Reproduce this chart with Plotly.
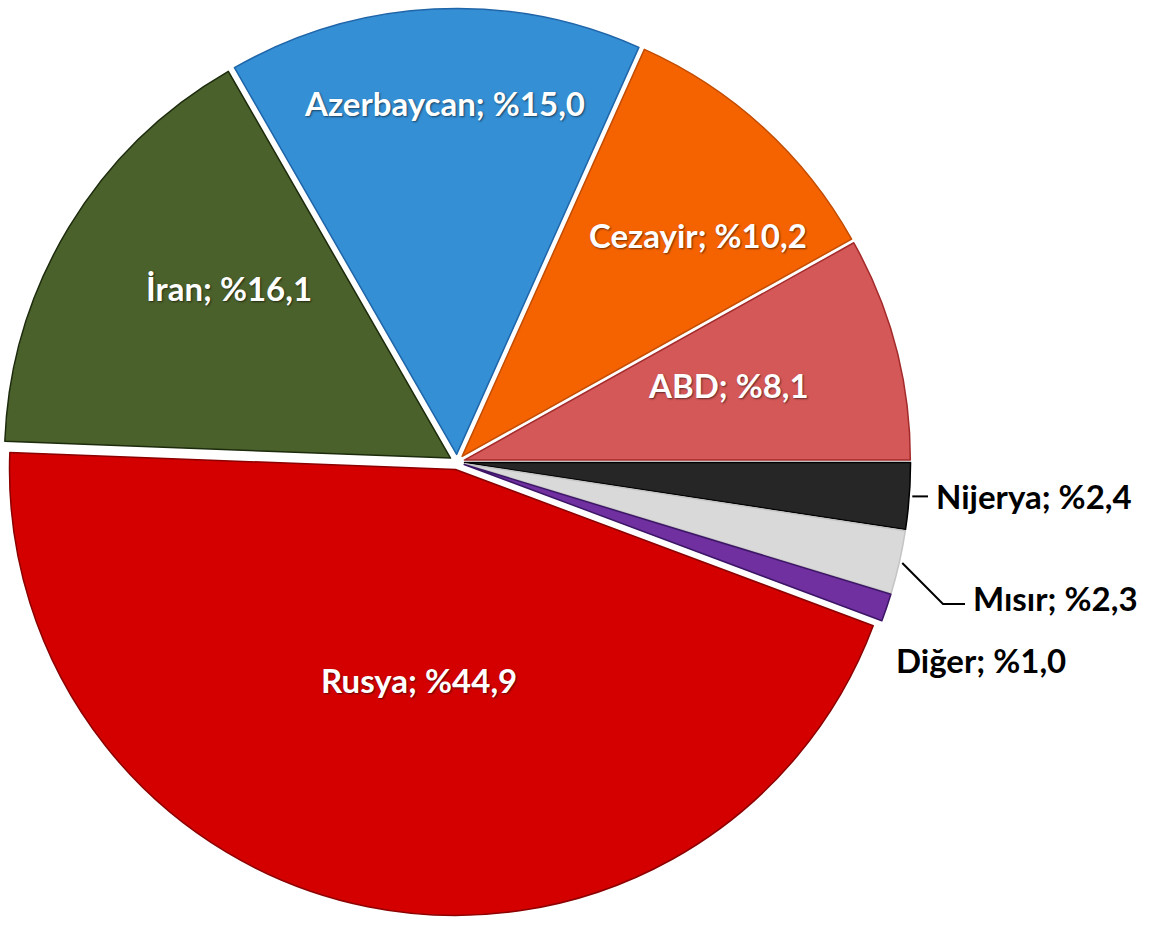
import math
import plotly.graph_objects as go

# Import shares by supplier country (%), listed clockwise from 3 o'clock
countries = ["Nijerya", "Mısır", "Diğer", "Rusya", "İran", "Azerbaycan", "Cezayir", "ABD"]
shares = [2.4, 2.3, 1.0, 44.9, 16.1, 15.0, 10.2, 8.1]

fill_colors = ["#262626", "#d9d9d9", "#7030a0", "#d40000", "#4b612b", "#348fd5", "#f56300", "#d55858"]
edge_colors = ["#000000", "#c4c4c4", "#3d1566", "#8c0000", "#1c2b0c", "#1f65a8", "#c24c00", "#a32a2a"]
text_colors = ["black", "black", "black", "white", "white", "white", "white", "white"]

# Label placement (pixel centre / left edge)
label_pos = {
    "ABD": (729, 385, "center"),
    "Cezayir": (698, 235, "center"),
    "Azerbaycan": (444, 103, "center"),
    "İran": (229, 288, "center"),
    "Rusya": (419, 680, "center"),
    "Diğer": (894, 660, "left"),
    "Mısır": (971, 598, "left"),
    "Nijerya": (934, 496, "left"),
}

W, H = 1149, 928
CX, CY, R = 457, 462, 446
PULL = 0.017
box = 2 * R * (1 + PULL)

fig = go.Figure(
    go.Pie(
        labels=countries,
        values=shares,
        sort=False,
        direction="clockwise",
        rotation=90,
        pull=[PULL] * len(shares),
        marker=dict(colors=fill_colors, line=dict(color=edge_colors, width=1.5)),
        textinfo="none",
        hoverinfo="label+percent",
        showlegend=False,
        domain=dict(
            x=[(CX - box / 2) / W, (CX + box / 2) / W],
            y=[1 - (CY + box / 2) / H, 1 - (CY - box / 2) / H],
        ),
    )
)


def fmt(v):
    return f"%{v:.1f}".replace(".", ",")


annotations = []
for name, val, tc in zip(countries, shares, text_colors):
    px, py, anchor = label_pos[name]
    font = dict(family="Lato, Carlito, Arial", size=33, color=tc, weight="bold")
    if tc == "white":
        font["shadow"] = "1px 1px 2px rgba(0,0,0,0.55)"
    annotations.append(
        dict(
            x=px / W, y=1 - py / H, xref="paper", yref="paper",
            text=f"{name}; {fmt(val)}", showarrow=False,
            xanchor=anchor, yanchor="middle", font=font,
        )
    )

# Mid-angle of each slice, measured clockwise from 3 o'clock (degrees)
total = sum(shares)
mids = {}
start = 0.0
for name, val in zip(countries, shares):
    span = val / total * 360
    mids[name] = start + span / 2
    start += span


def rim_point(name, extra=3):
    a = math.radians(mids[name])
    d = R * (1 + PULL) + extra
    return CX + d * math.cos(a), CY + d * math.sin(a)


def to_paper(x, y):
    return x / W, 1 - y / H


shapes = []
# Nijerya: short horizontal leader
sx, sy = rim_point("Nijerya")
lx = label_pos["Nijerya"][0] - 6
p0, p1 = to_paper(sx, sy), to_paper(lx, sy)
shapes.append(dict(type="line", xref="paper", yref="paper",
                   x0=p0[0], y0=p0[1], x1=p1[0], y1=p1[1],
                   line=dict(color="black", width=2)))
# Mısır: angled leader with horizontal tail
sx, sy = rim_point("Mısır")
ty = label_pos["Mısır"][1] + 6
lx = label_pos["Mısır"][0] - 6
pts = [to_paper(sx, sy), to_paper(lx - 22, ty), to_paper(lx, ty)]
path = "M {} {} L {} {} L {} {}".format(*[c for p in pts for c in p])
shapes.append(dict(type="path", xref="paper", yref="paper", path=path,
                   line=dict(color="black", width=2)))

fig.update_layout(
    width=W, height=H,
    margin=dict(l=0, r=0, t=0, b=0),
    paper_bgcolor="white", plot_bgcolor="white",
    annotations=annotations, shapes=shapes,
)

fig.write_html("out.html")
